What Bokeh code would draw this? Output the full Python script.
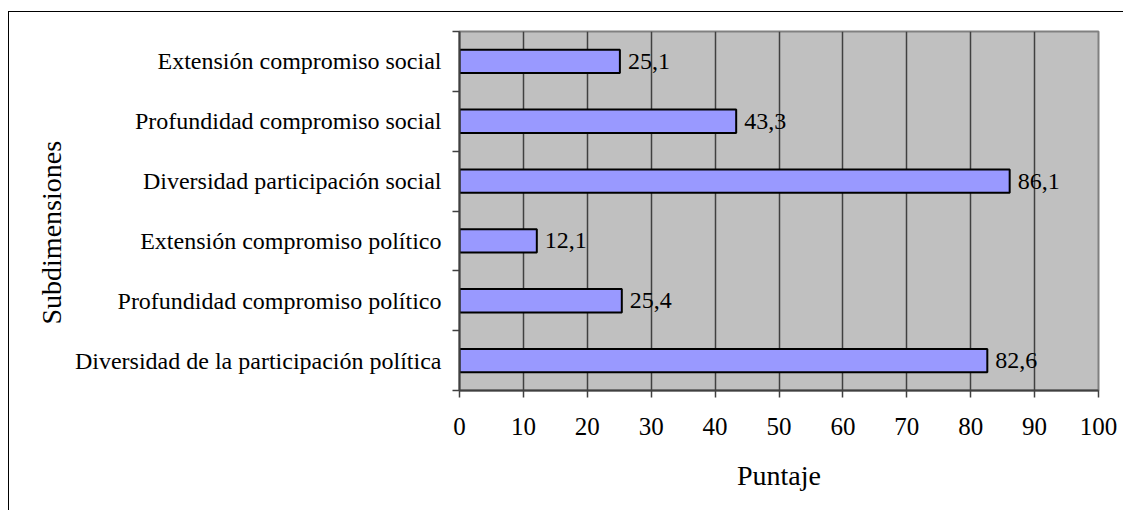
from bokeh.plotting import figure
from bokeh.models import ColumnDataSource, FixedTicker, Title
from bokeh.core.properties import value
from bokeh.embed import file_html
from bokeh.resources import INLINE

# Subdimension scores (bottom to top)
categories = [
    "Diversidad de la participación política",
    "Profundidad compromiso político",
    "Extensión compromiso político",
    "Diversidad participación social",
    "Profundidad compromiso social",
    "Extensión compromiso social",
]
scores = [82.6, 25.4, 12.1, 86.1, 43.3, 25.1]
x_ticks = [0, 10, 20, 30, 40, 50, 60, 70, 80, 90, 100]

FONT = "Liberation Serif"

pos = [i + 0.5 for i in range(len(categories))]
src = ColumnDataSource(dict(
    y=pos,
    score=scores,
    label=[f"{v:.1f}".replace(".", ",") for v in scores],
))

p = figure(
    width=1115, height=499,
    x_range=(0, 100), y_range=(0, len(categories)),
    output_backend="svg", toolbar_location=None,
    min_border_left=450, min_border_right=26,
    min_border_top=19, min_border_bottom=121,
    background_fill_color="#C0C0C0",
    border_fill_color="white",
    outline_line_color="#808080", outline_line_width=2,
    styles={
        "margin-left": "8px", "margin-top": "11px",
        "border-left": "1.5px solid black", "border-top": "1.5px solid black",
    },
)

p.hbar(y="y", right="score", left=0, height=0.39, source=src,
       fill_color="#9999FF", line_color="black", line_width=2)

p.text(x="score", y="y", text="label", source=src, x_offset=8,
       text_baseline="middle", text_align="left",
       text_font=value(FONT), text_font_size="24px", text_color="black")

# x axis
p.xaxis.ticker = FixedTicker(ticks=x_ticks)
p.xaxis.axis_label = "Puntaje"
p.xaxis.axis_label_text_font = FONT
p.xaxis.axis_label_text_font_style = "normal"
p.xaxis.axis_label_text_font_size = "28px"
p.xaxis.axis_label_text_color = "black"
p.xaxis.axis_label_standoff = 22
p.xaxis.major_label_text_font = FONT
p.xaxis.major_label_text_font_size = "25px"
p.xaxis.major_label_text_color = "black"
p.xaxis.major_label_standoff = 20
p.xaxis.major_tick_out = 7
p.xaxis.major_tick_in = 0
p.xaxis.minor_tick_line_color = None
p.xaxis.axis_line_color = "#404040"
p.xaxis.axis_line_width = 2
p.xaxis.major_tick_line_color = "#404040"
p.xaxis.major_tick_line_width = 1.5

# y axis: labels at category centres, ticks at category boundaries
p.yaxis.ticker = FixedTicker(ticks=pos, minor_ticks=list(range(len(categories) + 1)))
p.yaxis.major_label_overrides = {v: c for v, c in zip(pos, categories)}
p.yaxis.major_label_text_font = FONT
p.yaxis.major_label_text_font_size = "24px"
p.yaxis.major_label_text_color = "black"
p.yaxis.major_label_standoff = 11
p.yaxis.major_tick_out = 0
p.yaxis.major_tick_in = 0
p.yaxis.minor_tick_out = 7
p.yaxis.minor_tick_in = 0
p.yaxis.minor_tick_line_color = "#404040"
p.yaxis.minor_tick_line_width = 1.5
p.yaxis.axis_line_color = "#404040"
p.yaxis.axis_line_width = 2

p.xgrid.ticker = FixedTicker(ticks=x_ticks)
p.xgrid.grid_line_color = "#404040"
p.xgrid.grid_line_width = 1.5
p.ygrid.grid_line_color = None

# vertical axis title, starting a little above the bottom of the plot area
p.add_layout(Title(
    text="Subdimensiones", align="left", offset=66,
    text_font=FONT, text_font_size="28px", text_font_style="normal",
    text_color="black",
), "left")

open("out.html", "w").write(file_html(p, INLINE))
